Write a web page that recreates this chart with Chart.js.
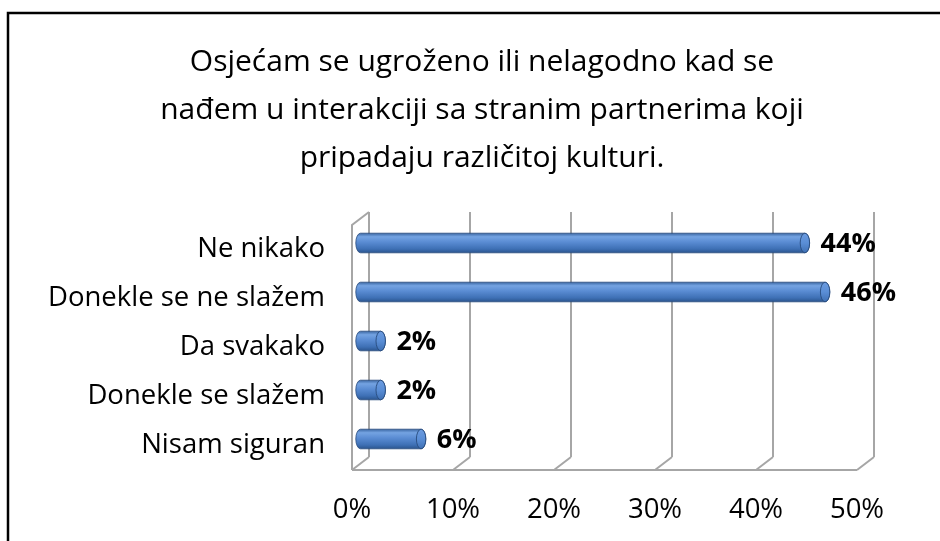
<!DOCTYPE html>
<html>
<head>
<meta charset="utf-8">
<script src="https://cdn.jsdelivr.net/npm/chart.js@4.4.1/dist/chart.umd.min.js"></script>
<style>
  html, body { margin: 0; padding: 0; background: #fff; }
  canvas { display: block; }
</style>
</head>
<body>
<canvas id="chart" width="940" height="541"></canvas>
<script>
const titleLines = [
  'Osjećam se ugroženo ili nelagodno kad se',
  'nađem u interakciji sa stranim partnerima koji',
  'pripadaju različitoj kulturi.'
];
const categories = ['Ne nikako', 'Donekle se ne slažem', 'Da svakako', 'Donekle se slažem', 'Nisam siguran'];
const percentages = [44, 46, 2, 2, 6];
const axisMin = 0;
const axisMax = 50;
const axisStep = 10;

const FONT = '"Open Sans", Lato, sans-serif';
// 3D depth of the plot box
const DX = 17;
const DY = 13;

function drawCylinder(ctx, x0, x1, yc, h) {
  const r = h * 0.24;
  const top = yc - h / 2;
  const bot = yc + h / 2;

  const g = ctx.createLinearGradient(0, top, 0, bot);
  g.addColorStop(0, '#3b67a3');
  g.addColorStop(0.18, '#74a3e2');
  g.addColorStop(0.45, '#5a8cd3');
  g.addColorStop(0.8, '#3e70b5');
  g.addColorStop(1, '#2b558e');

  ctx.beginPath();
  ctx.ellipse(x0, yc, r, h / 2, 0, Math.PI / 2, Math.PI * 1.5);
  ctx.lineTo(x1, top);
  ctx.ellipse(x1, yc, r, h / 2, 0, -Math.PI / 2, Math.PI / 2);
  ctx.closePath();
  ctx.fillStyle = g;
  ctx.fill();
  ctx.strokeStyle = 'rgba(40, 75, 125, 0.8)';
  ctx.lineWidth = 1;
  ctx.stroke();

  // end cap
  const cg = ctx.createLinearGradient(0, top, 0, bot);
  cg.addColorStop(0, '#6b9be0');
  cg.addColorStop(0.5, '#5a8ed6');
  cg.addColorStop(1, '#3f70b4');
  ctx.beginPath();
  ctx.ellipse(x1, yc, r, h / 2, 0, 0, Math.PI * 2);
  ctx.fillStyle = cg;
  ctx.fill();
  ctx.strokeStyle = 'rgba(40, 75, 125, 0.9)';
  ctx.stroke();
}

const frame3d = {
  id: 'frame3d',
  beforeDraw(chart) {
    const ctx = chart.ctx;
    ctx.save();
    ctx.fillStyle = '#fff';
    ctx.fillRect(0, 0, chart.width, chart.height);
    // outer chart border (runs off the right and bottom)
    ctx.strokeStyle = '#000';
    ctx.lineWidth = 2.5;
    ctx.strokeRect(8, 13, chart.width + 50, chart.height + 50);
    ctx.restore();
  },
  beforeDatasetsDraw(chart) {
    const ctx = chart.ctx;
    const area = chart.chartArea;
    const xs = chart.scales.x;
    ctx.save();
    ctx.strokeStyle = '#a6a6a6';
    ctx.lineWidth = 2;
    ctx.beginPath();
    xs.ticks.forEach(t => {
      const px = xs.getPixelForValue(t.value);
      // back wall line
      ctx.moveTo(px + DX, area.top - DY);
      ctx.lineTo(px + DX, area.bottom - DY);
      // floor line
      ctx.moveTo(px + DX, area.bottom - DY);
      ctx.lineTo(px, area.bottom);
    });
    // front floor edge
    ctx.moveTo(area.left, area.bottom);
    ctx.lineTo(area.right, area.bottom);
    // left side wall
    ctx.moveTo(area.left, area.bottom);
    ctx.lineTo(area.left, area.top);
    ctx.lineTo(area.left + DX, area.top - DY);
    ctx.stroke();
    ctx.restore();
  },
  afterDatasetsDraw(chart) {
    const ctx = chart.ctx;
    const meta = chart.getDatasetMeta(0);
    ctx.save();
    meta.data.forEach((bar, i) => {
      const p = bar.getProps(['x', 'y', 'base', 'height'], true);
      const ox = DX / 2;
      const oy = -DY / 2;
      drawCylinder(ctx, p.base + ox, p.x + ox, p.y + oy, p.height);
      ctx.fillStyle = '#000';
      ctx.font = 'bold 27px ' + FONT;
      ctx.textAlign = 'left';
      ctx.textBaseline = 'middle';
      ctx.fillText(percentages[i] + '%', p.x + ox + p.height * 0.24 + 11, p.y + oy + 1);
    });
    ctx.restore();
  }
};

new Chart(document.getElementById('chart'), {
  type: 'bar',
  data: {
    labels: categories,
    datasets: [{
      data: percentages,
      backgroundColor: 'rgba(0,0,0,0)',
      borderWidth: 0,
      barPercentage: 0.4,
      categoryPercentage: 1
    }]
  },
  options: {
    indexAxis: 'y',
    responsive: false,
    animation: false,
    layout: { padding: { left: 24, right: 0, top: 0, bottom: 0 } },
    plugins: {
      legend: { display: false },
      tooltip: { enabled: false },
      title: {
        display: true,
        text: titleLines,
        color: '#000',
        font: { family: FONT, size: 30, weight: 'normal', lineHeight: '48px' },
        padding: { top: 38, bottom: 43 }
      }
    },
    scales: {
      x: {
        min: axisMin,
        max: axisMax,
        grid: { display: false, drawTicks: false },
        border: { display: false },
        ticks: {
          stepSize: axisStep,
          color: '#000',
          padding: 24,
          font: { family: FONT, size: 27.5 },
          callback: v => v + '%'
        },
        afterFit: s => { s.height = 71; }
      },
      y: {
        grid: { display: false, drawTicks: false },
        border: { display: false },
        ticks: {
          color: '#000',
          padding: 27,
          font: { family: FONT, size: 27.5 }
        },
        afterFit: s => { s.width = 328; }
      },
      // empty right-hand strip that keeps the plot clear of the border
      yRight: {
        type: 'category',
        position: 'right',
        grid: { display: false, drawTicks: false },
        border: { display: false },
        ticks: { display: false },
        afterFit: s => { s.width = 83; }
      }
    }
  },
  plugins: [frame3d]
});
</script>
</body>
</html>
